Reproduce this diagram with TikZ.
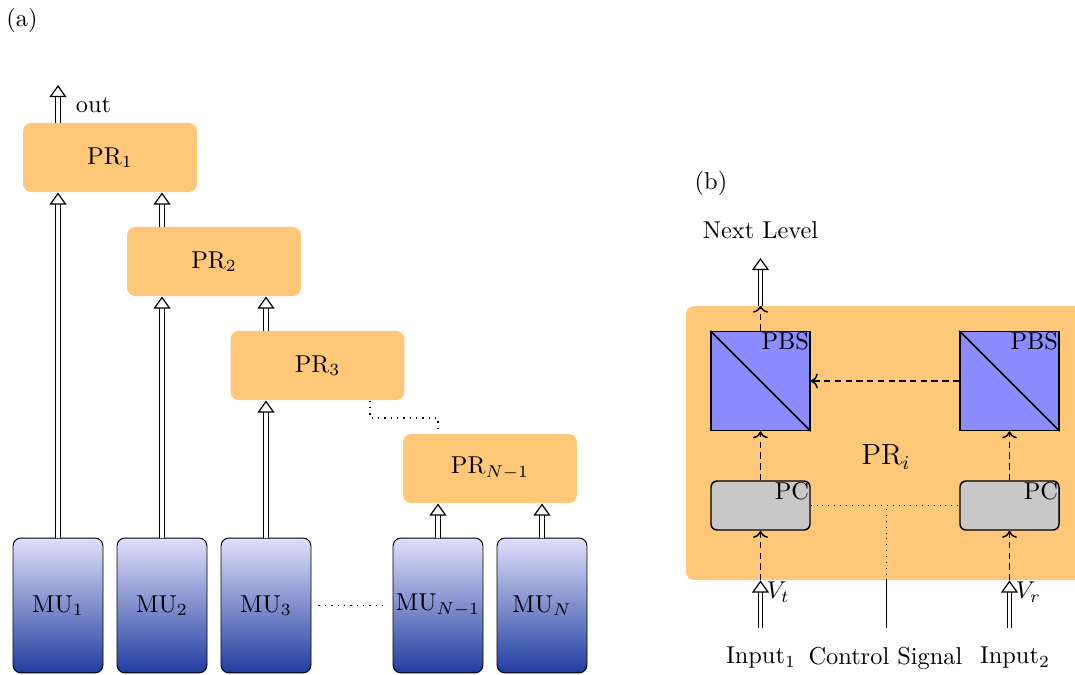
\documentclass[tikz,border=0pt]{standalone}
\usetikzlibrary{arrows.meta,calc}
\definecolor{prorange}{RGB}{255,200,120}
\definecolor{pbsblue}{RGB}{140,140,255}
\definecolor{pcgray}{RGB}{200,200,200}
\definecolor{mutop}{RGB}{224,224,250}
\definecolor{mubot}{RGB}{32,62,160}
\begin{document}
\begin{tikzpicture}[x=0.41pt,y=-0.41pt,
  prbox/.style={fill=prorange,rounded corners=3.3pt,minimum width=71.3pt,minimum height=28.3pt,inner sep=0pt},
  mubox/.style={draw,rounded corners=3.3pt,top color=mutop,bottom color=mubot,minimum width=36.9pt,minimum height=55.3pt,inner sep=0pt},
  pbsbox/.style={draw,semithick,fill=pbsblue,minimum width=40.6pt,minimum height=40.6pt,inner sep=0pt},
  pcbox/.style={draw,semithick,fill=pcgray,rounded corners=2.5pt,minimum width=40.6pt,minimum height=20.1pt,inner sep=0pt},
  dbl/.style={double,double distance=1.3pt,-{Triangle[open,fill=white,width=7pt,length=5pt,line width=0.5pt]}},
  dsh/.style={semithick,dash pattern=on 2.6pt off 1.8pt,->},
  dots/.style={semithick,dotted},
  lbl/.style={inner sep=1pt}]
\useasboundingbox (0,0) rectangle (1075,675);

\node[lbl] (la) at (22,20) {(a)};
\node[lbl] (lb) at (711,183) {(b)};

% (a)
\node[prbox] (pr1) at (110,157.5) {PR$_1$};
\node[prbox] (pr2) at (214,261.5) {PR$_2$};
\node[prbox] (pr3) at (317.5,365.5) {PR$_3$};
\node[prbox] (prn) at (490,468.5) {PR$_{N-1}$};

\node[mubox] (mu1) at (58,605.5) {MU$_1$};
\node[mubox] (mu2) at (162,605.5) {MU$_2$};
\node[mubox] (mu3) at (266,605.5) {MU$_3$};
\node[mubox] (mun1) at (438,605.5) {MU$_{N-1}$};
\node[mubox] (mun) at (542,605.5) {MU$_N$};

\coordinate (outc) at (58,85);
\draw[dbl] (mu1 |- pr1.north) -- (outc);
\node[lbl,anchor=west] (outl) at (73,105) {out};

\draw[dbl] (mu1.north) -- (mu1 |- pr1.south);
\draw[dbl] (mu2 |- pr2.north) -- (mu2 |- pr1.south);
\draw[dbl] (mu2.north) -- (mu2 |- pr2.south);
\draw[dbl] (mu3 |- pr3.north) -- (mu3 |- pr2.south);
\draw[dbl] (mu3.north) -- (mu3 |- pr3.south);
\draw[dbl] (mun1.north) -- (mun1 |- prn.south);
\draw[dbl] (mun.north) -- (mun |- prn.south);

\coordinate (dc) at (370,418);
\draw[dots] (dc |- pr3.south) -- (dc) -| (mun1 |- prn.north);
\draw[dots,shorten <=7pt*0.41,shorten >=7pt*0.41] (mu3.east) -- (mun1.west);

% (b)
\node[prbox,minimum width=165.6pt,minimum height=112.3pt] (big) at (888,443) {};
\node[font=\large] (pri) at (886,457) {PR$_i$};

\node[pbsbox] (pbsl) at (760.5,381) {};
\node[pbsbox] (pbsr) at (1009.5,381) {};
\draw[semithick] (pbsl.north west) -- (pbsl.south east);
\draw[semithick] (pbsr.north west) -- (pbsr.south east);
\node[anchor=north east,inner sep=0.5pt] (pbslt) at (pbsl.north east) {PBS};
\node[anchor=north east,inner sep=0.5pt] (pbsrt) at (pbsr.north east) {PBS};

\node[pcbox] (pcl) at (760.5,505.5) {};
\node[pcbox] (pcr) at (1009.5,505.5) {};
\node[anchor=north east,inner sep=0.5pt] (pclt) at (pcl.north east) {PC};
\node[anchor=north east,inner sep=0.5pt] (pcrt) at (pcr.north east) {PC};

\draw[dsh] (pcl.north) -- (pbsl.south);
\draw[dsh] (pcr.north) -- (pbsr.south);
\draw[dsh] (pbsr.west) -- (pbsl.east);
\coordinate (topl) at (pbsl |- big.north);
\draw[dsh] (pbsl.north) -- (topl);
\coordinate (nlc) at (760.5,258);
\draw[dbl] (topl) -- (nlc);
\node[lbl] (nl) at (760.5,230) {Next Level};

\coordinate (in1) at (760.5,628);
\coordinate (in2) at (1009.5,628);
\coordinate (cs) at (886,628);
\coordinate (b1) at (in1 |- big.south);
\coordinate (b2) at (in2 |- big.south);
\coordinate (b3) at (cs |- big.south);
\draw[dbl] (in1) -- (b1);
\draw[dbl] (in2) -- (b2);
\draw[dsh] (b1) -- (pcl.south);
\draw[dsh] (b2) -- (pcr.south);
\node[lbl,anchor=west] (vt) at (764,592) {$V_t$};
\node[lbl,anchor=west] (vr) at (1013,592) {$V_r$};
\draw (cs) -- (b3);
\draw[dotted] (b3) -- (cs |- pcl.east);
\draw[dotted] (pcl.east) -- (pcr.west);

\node[lbl] (i1) at (761,658) {Input$_1$};
\node[lbl] (csl) at (885.5,658) {Control Signal};
\node[lbl] (i2) at (1015,658) {Input$_2$};
\end{tikzpicture}
\end{document}
